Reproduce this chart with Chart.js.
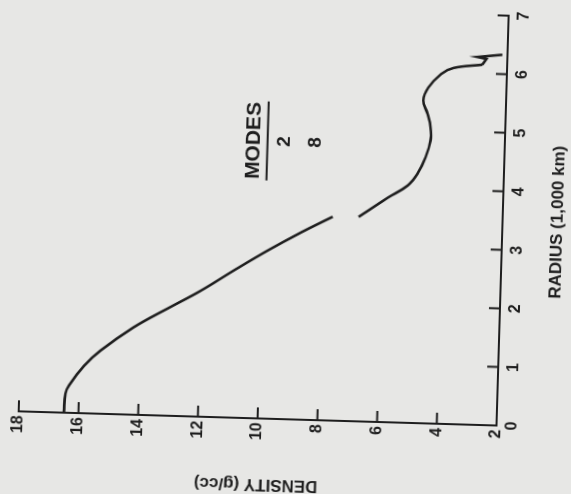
<!DOCTYPE html>
<html>
<head>
<meta charset="utf-8">
<script src="https://cdn.jsdelivr.net/npm/chart.js@4"></script>
<style>
  html, body { margin: 0; padding: 0; }
  body { width: 571px; height: 494px; overflow: hidden; background: #e7e7e5; position: relative; }
  /* the scanned page sits a little crooked */
  #sheet { position: absolute; left: 0; top: 0; width: 571px; height: 494px;
           transform-origin: 496px 425px; transform: rotate(1.7deg); }
  /* the plot itself is printed sideways */
  #chart { position: absolute; left: 8.5px; top: -68.5px; width: 554px; height: 631px;
           transform: rotate(-90deg); }
</style>
</head>
<body>
<div id="sheet"><canvas id="chart" width="554" height="631"></canvas></div>
<script>
// radius in 1,000 km, density in g/cc (null = break in the printed curve)
const radius = [0.00, 0.33, 0.47, 0.81, 1.08, 1.49, 1.83, 2.15, 2.51, 2.87, 3.19, 3.48,
                3.48, 3.49, 3.83, 4.05, 4.26, 4.54, 4.83, 5.05, 5.29, 5.51, 5.73,
                5.97, 6.08, 6.15];
const density = [16.49, 16.45, 16.34, 15.86, 15.32, 14.24, 13.12, 12.03, 10.95, 9.83, 8.75, 7.69,
                 null, 6.82, 5.87, 5.21, 4.89, 4.64, 4.49, 4.50, 4.62, 4.77, 4.62,
                 4.20, 3.79, 2.83];
// little zig-zag at the surface
const kinkRadius = [6.15, 6.25, 6.28, 6.33];
const kinkDensity = [2.83, 2.70, 3.00, 2.17];

const modesTitle = "MODES";
const modesList = ["2", "8"];

const ink = "#1e1e1e";
const fontFamily = "'Liberation Sans', Arial, sans-serif";

const toPoints = (xs, ys) => xs.map((x, i) => ({ x: x, y: ys[i] }));

// ticks point into the plot, and the MODES note
const extras = {
  id: "extras",
  afterDraw(chart) {
    const { ctx, chartArea, scales } = chart;
    const xs = scales.x, ys = scales.y;
    ctx.save();
    ctx.strokeStyle = ink;
    ctx.lineWidth = 2;
    ctx.beginPath();
    xs.ticks.forEach((t) => {
      if (t.value === xs.min) return;
      const px = xs.getPixelForValue(t.value);
      ctx.moveTo(px, chartArea.bottom);
      ctx.lineTo(px, chartArea.bottom - 11);
    });
    ys.ticks.forEach((t) => {
      if (t.value === ys.min) return;
      const py = ys.getPixelForValue(t.value);
      ctx.moveTo(chartArea.left, py);
      ctx.lineTo(chartArea.left + 11, py);
    });
    ctx.stroke();

    // note
    ctx.fillStyle = ink;
    ctx.textAlign = "center";
    ctx.textBaseline = "middle";
    const cx = xs.getPixelForValue(4.74);
    ctx.font = "bold 21px " + fontFamily;
    ctx.fillText(modesTitle, cx, ys.getPixelForValue(10.41));
    const w = ctx.measureText(modesTitle).width;
    const uy = ys.getPixelForValue(9.94);
    ctx.beginPath();
    ctx.moveTo(cx - w / 2 - 1, uy);
    ctx.lineTo(cx + w / 2 + 1, uy);
    ctx.stroke();
    ctx.font = "bold 19px " + fontFamily;
    ctx.fillText(modesList[0], cx, ys.getPixelForValue(9.37));
    ctx.fillText(modesList[1], cx, ys.getPixelForValue(8.34));
    ctx.restore();
  },
};

new Chart(document.getElementById("chart"), {
  type: "line",
  data: {
    datasets: [
      {
        data: toPoints(radius, density),
        borderColor: ink,
        borderWidth: 2.6,
        pointRadius: 0,
        tension: 0.4,
        spanGaps: false,
      },
      {
        data: toPoints(kinkRadius, kinkDensity),
        borderColor: ink,
        borderWidth: 2.6,
        pointRadius: 0,
        tension: 0,
      },
    ],
  },
  options: {
    responsive: false,
    animation: false,
    layout: { padding: { left: 19, right: 45, top: 48, bottom: 25 } },
    plugins: { legend: { display: false }, tooltip: { enabled: false } },
    scales: {
      x: {
        type: "linear",
        min: 0,
        max: 7,
        afterFit: (s) => { s.height = 80; },
        grid: { display: true, drawOnChartArea: false, drawTicks: false },
        border: { display: true, color: ink, width: 2 },
        ticks: { stepSize: 1, padding: 6, color: ink, font: { family: fontFamily, size: 16, weight: "bold" } },
        title: {
          display: true,
          text: "RADIUS (1,000 km)",
          color: ink,
          padding: { top: 0, bottom: 14 },
          font: { family: fontFamily, size: 17, weight: "bold" },
        },
      },
      y: {
        type: "linear",
        min: 2,
        max: 18,
        afterFit: (s) => { s.width = 80; },
        grid: { display: true, drawOnChartArea: false, drawTicks: false },
        border: { display: true, color: ink, width: 2 },
        ticks: { stepSize: 2, padding: 4, color: ink, font: { family: fontFamily, size: 16, weight: "bold" } },
        title: {
          display: true,
          text: "DENSITY (g/cc)",
          color: ink,
          padding: { top: 4, bottom: 0 },
          font: { family: fontFamily, size: 17, weight: "bold" },
        },
      },
    },
  },
  plugins: [extras],
});
</script>
</body>
</html>
